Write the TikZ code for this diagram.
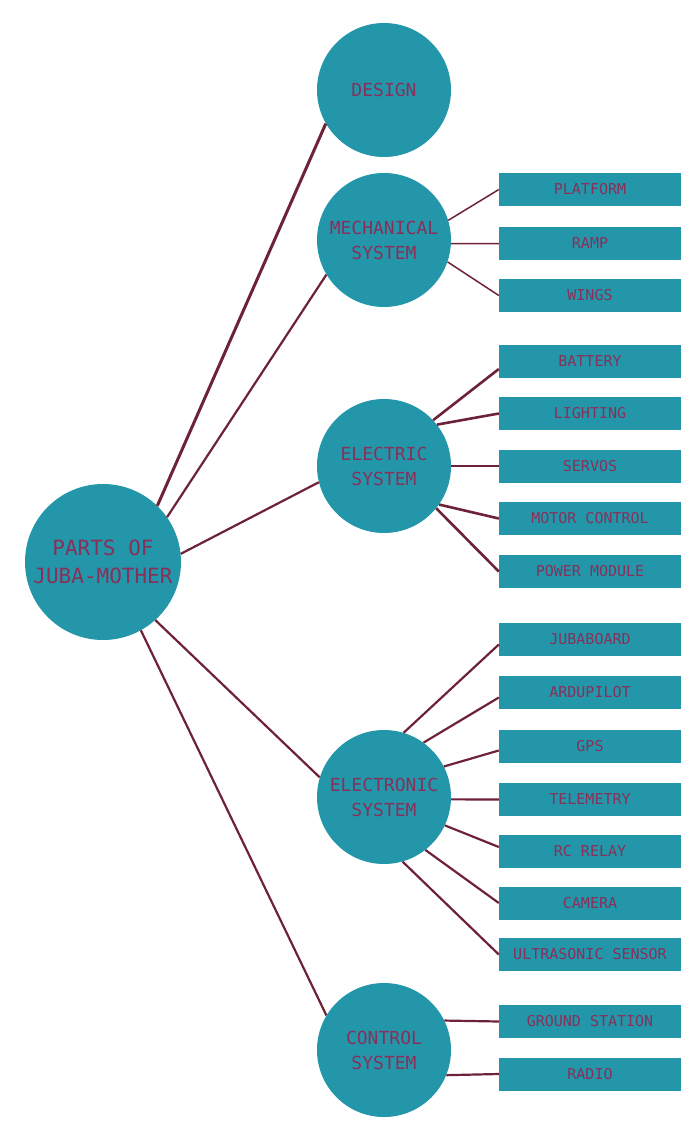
\documentclass[tikz,border=0pt]{standalone}
\usepackage{fontspec}
\newfontfamily\monof{DejaVu Sans Mono}
\definecolor{teal1}{HTML}{2397A9}
\definecolor{wire}{HTML}{6E2238}
\definecolor{ink}{HTML}{88305A}
\begin{document}
\begin{tikzpicture}[x=1pt,y=-1pt,
  hub/.style={circle, fill=teal1, minimum size=156pt, inner sep=0pt, text=ink, align=center, font=\monof\fontsize{21}{28}\selectfont},
  sub/.style={circle, fill=teal1, minimum size=134pt, inner sep=0pt, text=ink, align=center, font=\monof\fontsize{18}{25}\selectfont},
  part/.style={rectangle, fill=teal1, minimum width=182pt, minimum height=33pt, inner sep=0pt, text=ink, font=\monof\fontsize{15}{17}\selectfont},
  link/.style={draw=wire, line width=2.2pt},
  thinlink/.style={draw=wire, line width=1.5pt},
  boldlink/.style={draw=wire, line width=2.6pt}]
\useasboundingbox (0,0) rectangle (690,1124);
\node[hub] (main) at (103,562) {PARTS OF\\JUBA-MOTHER};
\node[sub] (design) at (384,90) {DESIGN};
\node[sub] (mech) at (384,240) {MECHANICAL\\SYSTEM};
\node[sub] (elec) at (384,466) {ELECTRIC\\SYSTEM};
\node[sub] (etron) at (384,797) {ELECTRONIC\\SYSTEM};
\node[sub] (ctrl) at (384,1050) {CONTROL\\SYSTEM};
\node[part] (plat) at (590,189.5) {PLATFORM};
\node[part] (ramp) at (590,243.5) {RAMP};
\node[part] (wings) at (590,295.5) {WINGS};
\node[part] (bat) at (590,361) {BATTERY};
\node[part] (light) at (590,413.5) {LIGHTING};
\node[part] (servo) at (590,466) {SERVOS};
\node[part] (motor) at (590,518.5) {MOTOR CONTROL};
\node[part] (power) at (590,571.5) {POWER MODULE};
\node[part] (juba) at (590,639.5) {JUBABOARD};
\node[part] (ardu) at (590,692.5) {ARDUPILOT};
\node[part] (gps) at (590,746.5) {GPS};
\node[part] (tele) at (590,799.5) {TELEMETRY};
\node[part] (rc) at (590,851) {RC RELAY};
\node[part] (cam) at (590,903) {CAMERA};
\node[part] (ultra) at (590,954.5) {ULTRASONIC SENSOR};
\node[part] (gs) at (590,1021.5) {GROUND STATION};
\node[part] (radio) at (590,1074) {RADIO};
% main connectors
\draw[link, line width=3pt] (main.46) -- (design.210);
\draw[link] (main.35) -- (mech.211);
\draw[link] (main.6) -- (elec.194);
\draw[link] (main.-48) -- (etron.163);
\draw[link] (main.-61) -- (ctrl.149);
% mechanical
\draw[thinlink] (mech.17) -- (plat.west);
\draw[thinlink] (mech.-3) -- (ramp.west);
\draw[thinlink] (mech.-19) -- (wings.west);
% electric
\draw[boldlink] (elec.43) -- ([yshift=-8pt]bat.west);
\draw[boldlink] (elec.38) -- (light.west);
\draw[link] (elec.0) -- (servo.west);
\draw[boldlink] (elec.-35) -- (motor.west);
\draw[boldlink] (elec.-39) -- (power.west);
% electronic
\draw[link] (etron.73) -- ([yshift=-5pt]juba.west);
\draw[link] (etron.54) -- ([yshift=-5pt]ardu.west);
\draw[link] (etron.27) -- ([yshift=-4pt]gps.west);
\draw[link] (etron.-2) -- (tele.west);
\draw[link] (etron.-25) -- ([yshift=4pt]rc.west);
\draw[link] (etron.-52) -- (cam.west);
\draw[link] (etron.-74) -- (ultra.west);
% control
\draw[link] (ctrl.26) -- (gs.west);
\draw[link] (ctrl.-22) -- (radio.west);
\end{tikzpicture}
\end{document}
